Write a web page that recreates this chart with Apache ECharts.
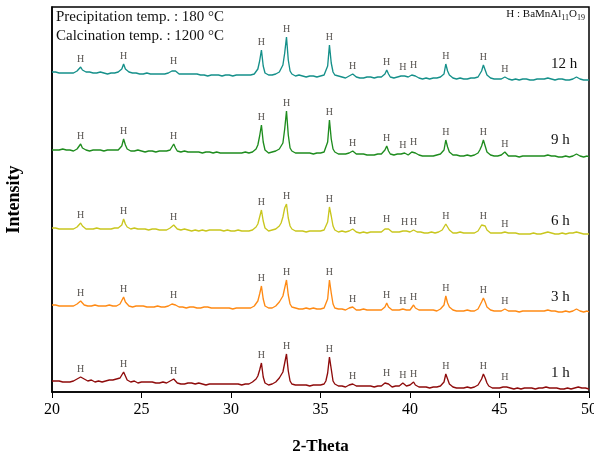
<!DOCTYPE html>
<html>
<head>
<meta charset="utf-8">
<script src="https://cdn.jsdelivr.net/npm/echarts@6/dist/echarts.min.js"></script>
<style>
  html, body { margin: 0; padding: 0; background: #fff; }
  #chart { width: 594px; height: 458px; }
</style>
</head>
<body>
<div id="chart"></div>
<script>
// XRD scans, 2-Theta 20-50 deg, step 0.1 deg (one row of ten readings per degree)
const scanStart = 20;
const scanStep = 0.1;
const xTicks = [20, 25, 30, 35, 40, 45, 50];

// Reflections assigned to the hexaaluminate phase
const hPeaks = [21.6, 24.0, 26.8, 31.7, 33.1, 35.5, 36.8, 38.7, 39.6, 40.2, 42.0, 44.1, 45.3];

const sampleNames = ['1 h', '3 h', '6 h', '9 h', '12 h'];
const sampleColors = ['#8e0b0b', '#ff8a14', '#c9c61e', '#1e8c1e', '#15908a'];
// vertical stacking offset of each scan (a.u.)
const sampleOffsets = [3, 80, 158, 235, 312];

const scan1h = [
  8,7,8,7,8,7,7,8,7,8,
  7,8,8,9,10,11,12,11,10,9,
  8,8,9,8,7,8,8,8,7,8,
  8,8,9,8,9,9,10,10,11,13,
  17,13,9,8,7,7,8,7,6,7,
  7,6,7,6,7,6,7,6,6,7,
  6,6,7,6,6,7,8,9,10,8,
  6,6,5,6,5,6,6,5,6,5,
  5,5,6,5,5,5,4,5,5,6,
  5,4,5,5,5,4,5,4,5,5,
  5,4,5,4,5,5,4,5,5,4,
  5,6,7,8,10,13,19,26,12,6,
  5,4,5,5,6,7,9,11,13,17,
  26,35,18,8,5,4,4,4,4,3,
  4,3,4,4,3,4,4,3,4,4,
  4,4,5,8,16,32,20,8,5,4,
  3,3,3,3,2,3,4,4,5,3,
  3,2,3,2,3,3,3,2,3,2,
  2,2,3,2,3,4,6,8,5,3,
  2,2,3,2,3,4,6,4,3,3,
  4,5,7,4,3,2,2,2,1,2,
  2,1,2,2,1,2,2,3,5,7,
  15,10,5,3,2,2,1,2,1,2,
  1,1,2,1,1,2,2,3,4,6,
  10,15,11,6,3,2,1,1,1,1,
  1,1,2,4,2,1,1,1,0,1,
  1,1,0,1,1,0,1,0,1,1,
  0,1,1,1,1,2,2,2,1,1,
  1,0,1,0,0,1,0,0,1,0,
  0,1,1,2,2,1,1,0,1,0,
  0
];

const scan3h = [
  7,6,7,6,6,7,6,7,6,7,
  6,7,6,7,8,10,11,9,7,6,
  6,7,6,6,7,6,6,7,6,6,
  6,6,7,6,6,7,6,7,8,10,
  15,10,8,6,6,5,6,6,5,6,
  5,6,5,5,6,5,6,5,5,6,
  5,5,6,5,5,6,7,8,9,7,
  5,5,4,5,5,4,5,5,4,5,
  5,4,5,4,4,5,4,5,4,4,
  4,4,5,4,4,4,5,4,4,4,
  4,3,4,4,3,4,4,4,3,4,
  4,4,5,6,8,11,18,26,13,6,
  4,4,3,4,5,6,8,10,12,16,
  24,32,17,8,5,4,4,3,3,4,
  3,3,4,3,3,3,4,3,3,3,
  3,3,4,6,13,32,19,8,4,3,
  3,2,3,3,2,3,4,5,5,3,
  2,3,2,2,3,2,2,3,2,2,
  2,2,2,3,2,3,5,9,5,3,
  2,2,2,1,2,2,3,3,2,2,
  2,4,7,4,2,2,1,2,1,2,
  1,2,1,2,1,1,2,3,5,7,
  16,9,5,3,2,1,1,2,1,1,
  1,1,2,1,1,1,1,2,3,5,
  10,14,10,5,3,2,1,1,1,1,
  1,1,2,3,2,1,1,1,0,1,
  1,0,1,1,0,1,0,1,0,1,
  0,1,0,1,1,1,2,2,2,1,
  0,1,0,0,1,0,0,1,0,0,
  0,1,2,3,2,1,1,0,0,1,
  0
];

const scan6h = [
  6,5,6,5,5,6,5,6,5,5,
  5,6,5,6,7,9,11,8,6,5,
  5,5,6,5,5,6,5,5,6,5,
  5,5,6,5,5,6,5,6,7,9,
  15,10,7,6,5,5,6,5,5,5,
  5,4,5,5,4,5,5,4,5,5,
  4,5,4,5,4,5,6,7,9,7,
  5,4,4,4,5,4,4,4,3,4,
  4,4,3,4,4,4,3,4,4,3,
  4,3,4,3,4,4,3,3,4,3,
  3,4,3,3,4,3,3,4,3,3,
  3,4,4,5,7,10,17,24,13,6,
  4,3,3,4,4,5,6,8,11,17,
  26,30,16,8,5,4,3,3,3,3,
  3,3,2,3,3,2,3,3,3,2,
  3,3,4,6,12,27,18,8,4,3,
  2,2,3,2,2,2,3,4,5,3,
  2,2,1,2,2,2,1,2,2,2,
  2,1,2,2,2,3,5,7,5,3,
  2,1,2,2,2,3,3,4,3,2,
  2,3,4,3,2,1,2,1,1,2,
  1,1,2,1,1,2,2,3,4,6,
  10,8,4,2,1,1,1,1,2,1,
  1,1,1,0,1,1,1,2,3,5,
  9,10,8,4,2,1,1,1,0,1,
  1,1,1,2,1,1,0,1,0,1,
  1,0,1,0,1,0,1,0,0,1,
  0,0,1,0,1,1,1,2,1,1,
  0,0,1,0,0,1,0,0,0,1,
  0,1,1,2,1,1,0,0,1,0,
  0
];

const scan9h = [
  7,8,7,6,7,7,8,7,7,6,
  7,7,6,7,8,10,13,9,7,7,
  7,6,7,7,6,7,6,7,7,6,
  6,7,6,7,7,7,6,7,9,11,
  18,12,8,7,6,7,6,6,7,6,
  6,6,5,6,6,5,6,6,5,6,
  6,5,6,5,6,6,7,9,13,9,
  6,6,5,5,6,5,5,6,5,5,
  5,4,5,5,4,5,5,4,5,5,
  4,5,5,4,4,5,4,5,4,4,
  4,5,4,4,4,5,4,4,5,4,
  4,4,5,6,8,12,21,32,15,7,
  5,4,4,5,5,6,7,8,9,14,
  28,46,22,9,6,5,4,4,4,3,
  4,3,4,3,4,4,3,3,4,3,
  4,4,5,7,15,37,18,8,5,4,
  3,3,3,2,3,3,4,5,6,4,
  3,2,3,2,3,2,2,3,2,3,
  2,2,3,2,3,4,7,11,6,3,
  2,2,2,3,3,3,4,4,3,2,
  3,5,7,4,2,2,2,1,2,1,
  2,1,2,1,2,2,2,3,5,7,
  17,10,5,3,2,1,2,1,1,2,
  1,1,2,1,1,1,2,2,4,7,
  11,17,11,5,3,2,1,1,1,1,
  1,2,3,5,3,1,1,1,0,1,
  1,0,1,1,0,1,0,1,0,1,
  0,1,1,1,1,1,2,2,2,1,
  0,1,0,0,1,0,0,1,0,0,
  0,1,2,3,2,1,1,0,0,1,
  0
];

const scan12h = [
  8,7,8,7,7,8,7,8,7,7,
  7,8,7,8,9,11,13,10,9,8,
  7,8,7,7,6,7,7,8,7,7,
  7,6,7,7,8,7,7,8,9,11,
  16,11,9,8,7,7,6,7,7,6,
  7,6,6,7,6,6,7,6,7,6,
  6,6,5,6,6,7,8,9,11,9,
  7,6,5,6,5,6,5,6,5,6,
  5,6,5,5,6,5,5,4,5,5,
  5,5,4,5,5,4,5,5,4,5,
  5,4,4,5,4,5,4,5,4,5,
  4,5,5,6,8,11,19,30,14,7,
  5,5,4,5,5,6,7,8,10,15,
  27,43,20,9,6,5,4,4,5,4,
  4,4,3,4,4,3,4,4,3,4,
  4,4,5,7,14,35,17,8,5,4,
  4,3,3,3,2,3,4,5,6,4,
  3,3,2,3,2,3,3,2,3,3,
  2,2,3,2,3,4,6,10,6,3,
  2,2,2,3,3,4,5,4,3,3,
  3,5,7,4,3,2,2,1,2,2,
  2,1,2,2,1,2,2,3,4,6,
  16,9,5,3,2,2,1,2,2,1,
  1,2,1,1,2,1,2,2,3,5,
  9,15,10,5,3,2,1,1,1,1,
  1,1,2,3,2,1,1,0,1,1,
  1,0,1,1,0,1,1,0,1,0,
  0,1,0,1,1,1,2,2,2,1,
  1,0,0,1,0,1,0,0,1,0,
  0,1,2,3,2,1,0,0,1,0,
  0
];

const scans = [scan1h, scan3h, scan6h, scan9h, scan12h];

const serif = "'Liberation Serif', 'Times New Roman', serif";

// pair each reading with its scan angle and lift it by the stacking offset
function stackedPoints(scan, offset) {
  return scan.map((v, i) => [+(scanStart + i * scanStep).toFixed(1), v + offset]);
}

// "H" tags sit on the highest reading near each assigned reflection
function peakTags(points) {
  return hPeaks.map(a => {
    const c = Math.round((a - scanStart) / scanStep);
    let best = points[c];
    for (let j = c - 2; j <= c + 2; j++) {
      if (points[j] && points[j][1] > best[1]) best = points[j];
    }
    return best;
  });
}

const lineSeries = [];
const tagPoints = [];
scans.forEach((scan, k) => {
  const pts = stackedPoints(scan, sampleOffsets[k]);
  lineSeries.push({
    name: sampleNames[k],
    type: 'line',
    data: pts,
    showSymbol: false,
    symbol: 'none',
    lineStyle: { color: sampleColors[k], width: 1.35 },
    z: 2
  });
  peakTags(pts).forEach(p => tagPoints.push(p));
});

const chart = echarts.init(document.getElementById('chart'), null, { renderer: 'canvas' });

const sampleLabelTops = [366, 290, 214, 133, 57];

chart.setOption({
  animation: false,
  backgroundColor: '#fff',
  grid: {
    left: 52, right: 5, top: 7, bottom: 66,
    containLabel: false,
    outerBoundsMode: 'none',
    show: true, borderColor: '#000', borderWidth: 1.5, backgroundColor: 'transparent'
  },
  xAxis: {
    type: 'value',
    min: 20, max: 50, interval: 5,
    name: '2-Theta',
    nameLocation: 'middle',
    nameGap: 46,
    nameTextStyle: { fontFamily: serif, fontWeight: 'bold', fontSize: 17, color: '#000' },
    axisLine: { show: true, lineStyle: { color: '#000', width: 1.5 } },
    axisTick: { show: true, inside: false, length: 6, lineStyle: { color: '#000', width: 1 } },
    axisLabel: {
      fontFamily: serif, fontSize: 16, color: '#000', margin: 10,
      formatter: v => (xTicks.indexOf(v) >= 0 ? String(v) : '')
    },
    splitLine: { show: false }
  },
  yAxis: {
    type: 'value',
    min: 0, max: 385,
    name: 'Intensity',
    nameLocation: 'middle',
    nameGap: 29,
    nameRotate: 90,
    nameTextStyle: { fontFamily: serif, fontWeight: 'bold', fontSize: 18, color: '#000' },
    axisLine: { show: true, lineStyle: { color: '#000', width: 1.5 } },
    axisTick: { show: false },
    axisLabel: { show: false },
    splitLine: { show: false }
  },
  series: lineSeries.concat([{
    type: 'scatter',
    data: tagPoints,
    symbolSize: 0,
    silent: true,
    z: 3,
    label: {
      show: true,
      position: 'top',
      distance: 3,
      formatter: 'H',
      fontFamily: serif,
      fontSize: 10,
      color: '#2a2622'
    }
  }]),
  graphic: [
    {
      type: 'text', left: 56, top: 10, z: 10,
      style: { text: 'Precipitation temp. : 180 °C', font: '15px ' + serif, fill: '#111' }
    },
    {
      type: 'text', left: 56, top: 28.5, z: 10,
      style: { text: 'Calcination temp. : 1200 °C', font: '15px ' + serif, fill: '#111' }
    },
    {
      type: 'text', right: 9, top: 9, z: 10,
      style: {
        text: '{m|H : BaMnAl}{s|11}{m|O}{s|19}',
        rich: {
          m: { fontFamily: serif, fontSize: 11, lineHeight: 14, verticalAlign: 'middle', fill: '#111' },
          s: { fontFamily: serif, fontSize: 8, lineHeight: 8, verticalAlign: 'bottom', fill: '#111' }
        }
      }
    }
  ].concat(sampleNames.map((n, k) => ({
    type: 'text', left: 551, top: sampleLabelTops[k], z: 10,
    style: { text: n, font: '15px ' + serif, fill: '#111' }
  })))
});
</script>
</body>
</html>
